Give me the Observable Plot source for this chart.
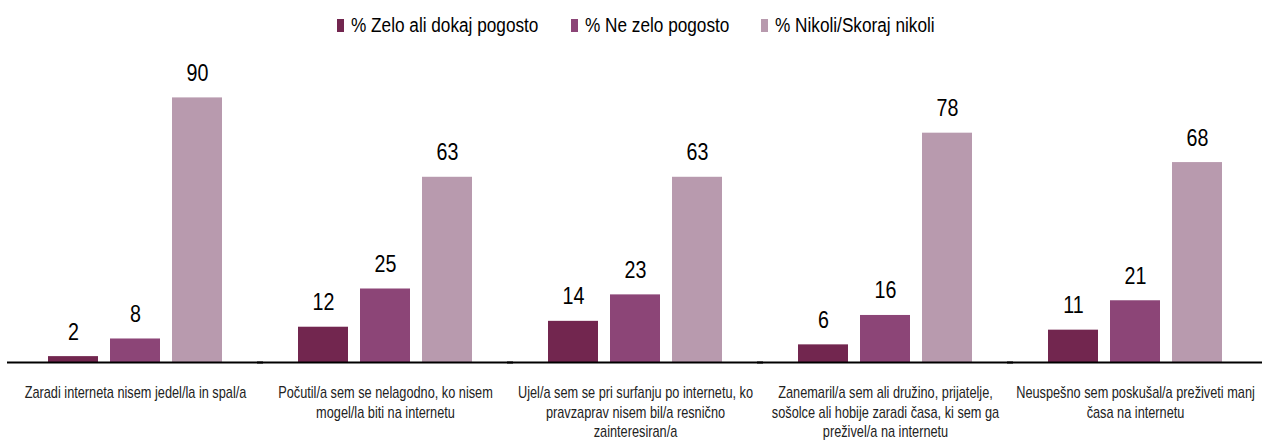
<!DOCTYPE html>
<html>
<head>
<meta charset="utf-8">
<script src="https://cdn.jsdelivr.net/npm/d3@7"></script>
<script src="https://cdn.jsdelivr.net/npm/@observablehq/plot@0.6"></script>
<style>
  html, body { margin: 0; padding: 0; background: #fff; }
  body { width: 1262px; height: 444px; overflow: hidden; font-family: "Liberation Sans", Arial, sans-serif; }
  #legend { height: 48px; display: flex; justify-content: center; align-items: flex-start; padding-left: 10px; box-sizing: border-box; }
  .item { display: flex; align-items: center; margin: 0 16px; padding-top: 14px; font-size: 20px; color: #000; white-space: nowrap; }
  .sw { width: 7px; height: 13px; margin-right: 7px; flex: none; }
  .lbl { display: inline-block; transform: scaleX(0.86); transform-origin: 0 50%; }
  #chart svg { display: block; }
</style>
</head>
<body>
<div id="legend"></div>
<div id="chart"></div>
<script>
const categories = [
  "Zaradi interneta nisem jedel/la in spal/a",
  "Počutil/a sem se nelagodno, ko nisem\nmogel/la biti na internetu",
  "Ujel/a sem se pri surfanju po internetu, ko\npravzaprav nisem bil/a resnično\nzainteresiran/a",
  "Zanemaril/a sem ali družino, prijatelje,\nsošolce ali hobije zaradi časa, ki sem ga\npreživel/a na internetu",
  "Neuspešno sem poskušal/a preživeti manj\nčasa na internetu"
];
const series = ["% Zelo ali dokaj pogosto", "% Ne zelo pogosto", "% Nikoli/Skoraj nikoli"];
const zeloAliDokaj = [2, 12, 14, 6, 11];
const neZelo = [8, 25, 23, 16, 21];
const nikoli = [90, 63, 63, 78, 68];
const colors = ["#72264f", "#8c4577", "#b89aae"];

const seriesValues = [zeloAliDokaj, neZelo, nikoli];
const data = [];
categories.forEach((c, i) => {
  series.forEach((s, j) => data.push({category: c, series: s, value: seriesValues[j][i]}));
});

// Legend
const legend = document.getElementById("legend");
const labelSpans = [];
series.forEach((s, j) => {
  const it = document.createElement("div");
  it.className = "item";
  const sw = document.createElement("span");
  sw.className = "sw";
  sw.style.background = colors[j];
  it.appendChild(sw);
  const lb = document.createElement("span");
  lb.className = "lbl";
  lb.textContent = s;
  it.appendChild(lb);
  legend.appendChild(it);
  labelSpans.push(lb);
});
labelSpans.forEach(lb => {
  const w = lb.getBoundingClientRect().width / 0.86;
  lb.style.marginRight = (-(1 - 0.86) * w) + "px";
});

const font = "'Liberation Sans', Arial, sans-serif";

const chart = Plot.plot({
  width: 1262,
  height: 396,
  marginLeft: 8,
  marginRight: 0,
  marginTop: 20,
  marginBottom: 82,
  style: {fontFamily: font, background: "#fff", color: "#000"},
  fx: {domain: categories, paddingInner: 0.295, paddingOuter: 0.147, label: null},
  x: {domain: series, paddingInner: 0.2, paddingOuter: 0, axis: null},
  y: {domain: [0, 100], axis: null},
  color: {domain: series, range: colors},
  marks: [
    Plot.barY(data, {fx: "category", x: "series", y: "value", fill: "series"}),
    Plot.text(data, {fx: "category", x: "series", y: "value", text: d => String(d.value),
      lineAnchor: "bottom", dy: -17, fontSize: 24, fill: "#000"}),
    Plot.ruleY([0], {stroke: "#000", strokeWidth: 2, insetLeft: -40, insetRight: -40}),
    Plot.axisFx({anchor: "bottom", tickSize: 0, tickPadding: 21, fontSize: 17, lineHeight: 1.17,
      label: null, fill: "#222"})
  ]
});
document.getElementById("chart").appendChild(chart);

// Condense the text horizontally to match the narrow typeface of the reference.
function condense(selector, s) {
  chart.querySelectorAll(selector).forEach(t => {
    const tr = t.getAttribute("transform") || "";
    t.setAttribute("transform", (tr + ` scale(${s},1)`).trim());
  });
}
condense('g[aria-label="text"] text', 0.82);
condense('g[aria-label="fx-axis tick label"] text', 0.75);
</script>
</body>
</html>
